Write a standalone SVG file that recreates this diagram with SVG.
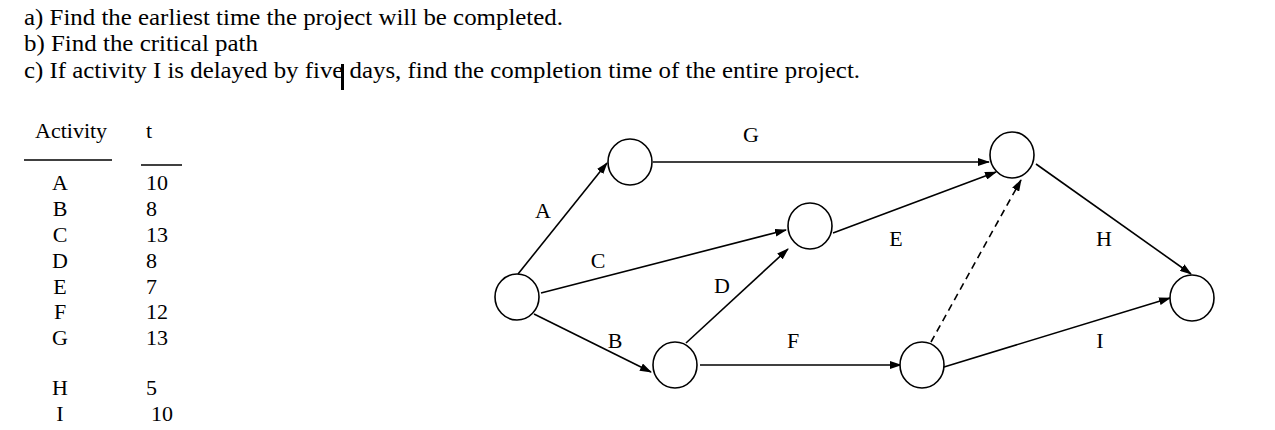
<svg xmlns="http://www.w3.org/2000/svg" width="1275" height="430" viewBox="0 0 1275 430">
<style>
.n{fill:#fff;stroke:#000;stroke-width:1.6}
.e{stroke:#000;stroke-width:1.6;fill:none;marker-end:url(#ah)}
</style>
<defs><marker id="ah" markerWidth="12" markerHeight="8" refX="11" refY="4" orient="auto" markerUnits="userSpaceOnUse"><path d="M0,0 L12,4 L0,8 Z" fill="#000"/></marker></defs>
<rect width="1275" height="430" fill="#fff"/>
<g font-family="'Liberation Serif','Times New Roman',serif" font-size="24" fill="#000">
<text x="24" y="25" textLength="539" lengthAdjust="spacingAndGlyphs">a) Find the earliest time the project will be completed.</text>
<text x="24" y="51" textLength="234" lengthAdjust="spacingAndGlyphs">b) Find the critical path</text>
<text x="24" y="78" textLength="836" lengthAdjust="spacingAndGlyphs">c) If activity I is delayed by five days, find the completion time of the entire project.</text>
</g>
<rect x="341" y="64" width="3" height="26" fill="#000"/>
<g id="table" font-family="'Liberation Serif','Times New Roman',serif" font-size="22" fill="#000">
<text x="35" y="138">Activity</text><text x="146" y="138">t</text>
<line x1="24" y1="160" x2="112" y2="160" stroke="#000" stroke-width="1.5"/>
<line x1="141" y1="165" x2="182" y2="165" stroke="#000" stroke-width="1.5"/>
<g text-anchor="middle">
<text x="60" y="190">A</text><text x="60" y="216">B</text><text x="60" y="242">C</text><text x="60" y="268">D</text><text x="60" y="294">E</text><text x="60" y="319">F</text><text x="60" y="345">G</text><text x="60" y="395">H</text><text x="60" y="421">I</text>
</g>
<text x="146" y="190">10</text><text x="146" y="216">8</text><text x="146" y="242">13</text><text x="146" y="268">8</text><text x="146" y="294">7</text><text x="146" y="319">12</text><text x="146" y="345">13</text><text x="146" y="395">5</text><text x="151" y="421">10</text>
</g>
<g id="connectors">
<line class="e" x1="518" y1="274" x2="607" y2="163"/>
<line class="e" x1="653" y1="162" x2="989" y2="162"/>
<line class="e" x1="541" y1="293" x2="786" y2="230"/>
<line class="e" x1="833" y1="233" x2="996" y2="172"/>
<line class="e" x1="931" y1="342" x2="1021" y2="180" stroke-dasharray="7,5"/>
<line class="e" x1="534" y1="314" x2="651" y2="372"/>
<line class="e" x1="686" y1="343" x2="788" y2="249"/>
<line class="e" x1="700" y1="365" x2="901" y2="365"/>
<line class="e" x1="1036" y1="164" x2="1191" y2="274"/>
<line class="e" x1="944" y1="367" x2="1170" y2="298"/>
<g font-family="'Liberation Serif','Times New Roman',serif" font-size="22" text-anchor="middle" fill="#000">
<text x="751" y="142">G</text><text x="543" y="218">A</text><text x="598" y="268">C</text><text x="722" y="293">D</text><text x="615" y="348">B</text><text x="793" y="348">F</text><text x="896" y="246">E</text><text x="1104" y="246">H</text><text x="1100" y="348">I</text>
</g>
</g>
<g id="n1"><ellipse class="n" cx="517" cy="297" rx="22" ry="23"/></g>
<g id="n2"><ellipse class="n" cx="630" cy="162" rx="22" ry="23"/></g>
<g id="n3"><ellipse class="n" cx="810" cy="226" rx="22" ry="23"/></g>
<g id="n4"><ellipse class="n" cx="675" cy="365" rx="22" ry="23"/></g>
<g id="n5"><ellipse class="n" cx="922" cy="365" rx="22" ry="23"/></g>
<g id="n6"><ellipse class="n" cx="1012" cy="155" rx="22" ry="23"/></g>
<g id="n7"><ellipse class="n" cx="1192" cy="298" rx="22" ry="23"/></g>
</svg>
